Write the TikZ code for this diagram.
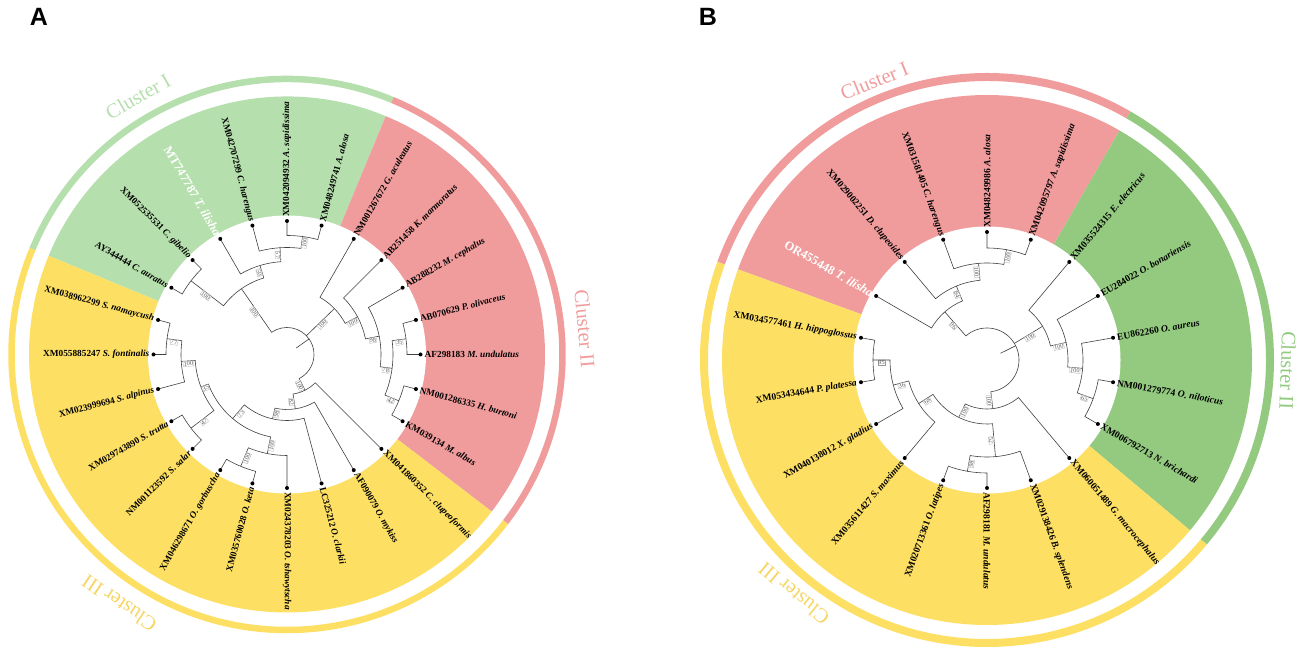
\documentclass[tikz,border=0pt]{standalone}
\usepackage{fontspec}
\setmainfont{Liberation Serif}
\newfontfamily\panelfont{Liberation Sans}
\usetikzlibrary{calc}

\definecolor{clgreen}{HTML}{B5DFAC}
\definecolor{clgreendark}{HTML}{93CA7F}
\definecolor{clred}{HTML}{F19C9C}
\definecolor{clyellow}{HTML}{FDDF63}
\definecolor{clgold}{HTML}{F6D562}

\tikzset{
  branch/.style={draw=black!75, line width=0.6pt},
  leaf/.style={font=\fontsize{9.3}{10}\selectfont\bfseries, inner sep=1pt},
  boot/.style={font=\fontsize{6.3}{7}\selectfont, text=black!65, draw=black!40,
    line width=0.2pt, fill=white, inner sep=0.5pt, anchor=north},
  ring/.style={line width=7pt},
  cluster/.style={font=\fontsize{20.5}{22}\selectfont},
}

% one clade: node radius, angle/radius of first child, angle/radius of second child
\newcommand{\clade}[5]{\draw[branch] (#2:#3) -- (#2:#1) arc[start angle=#2, end angle=#4, radius=#1] -- (#4:#5);}

% bootstrap value on a branch: name, angle, radius, value
\newcommand{\bootlab}[4]{%
  \pgfmathsetmacro\bcos{cos(#2)}%
  \ifdim\bcos pt>-0.01pt \pgfmathsetmacro\brot{#2}\else\pgfmathsetmacro\brot{#2-180}\fi
  \node[boot, rotate=\brot] (#1) at (#2:#3) {#4};}

\begin{document}
\begin{tikzpicture}[x=1pt, y=1pt]
    \useasboundingbox (0,0) rectangle (1299,653);

    % Panel letters
    \node[font=\panelfont\bfseries\fontsize{25}{25}\selectfont] (labA) at (39,636) {A};
    \node[font=\panelfont\bfseries\fontsize{25}{25}\selectfont] (labB) at (708,636) {B};

    % ---------------- Panel A ----------------
    \begin{scope}[shift={(287,298.5)}]
    \def\rl{133.5}
    % Draw the cluster wedges
    \fill[clgreen] (0,0) -- (157.5:258) arc[start angle=157.5, end angle=67.5, radius=258] -- cycle;
    \fill[clred] (0,0) -- (67.5:258) arc[start angle=67.5, end angle=-37.5, radius=258] -- cycle;
    \fill[clyellow] (0,0) -- (-37.5:258) arc[start angle=-37.5, end angle=-202.5, radius=258] -- cycle;
    \fill[white] (0,0) circle (139);

    % Outer ring and cluster names
    \draw[ring, line width=6.5pt, clgreen] (157.5:275.5) arc[start angle=157.5, end angle=67.5, radius=275.5];
    \draw[ring, line width=6.5pt, clred] (67.5:275.5) arc[start angle=67.5, end angle=-37.5, radius=275.5];
    \draw[ring, line width=6.5pt, clyellow] (-37.5:275.5) arc[start angle=-37.5, end angle=-202.5, radius=275.5];
    \node[cluster, text=clgreen, rotate=30] (cA1) at (120:298) {Cluster I};
    \node[cluster, text=clred, rotate=-85] (cA2) at (5:299) {Cluster II};
    \node[cluster, text=clgold, rotate=146] (cA3) at (-124:300) {Cluster III};

    % Draw the tree
    \clade{119}{90}{\rl}{75}{\rl}
    \clade{107}{105}{\rl}{82.5}{119}
    \clade{93}{120}{\rl}{93.75}{107}
    \clade{121}{150}{\rl}{135}{\rl}
    \clade{80}{142.5}{121}{106.875}{93}
    \clade{120}{15}{\rl}{0}{\rl}
    \clade{121}{-15}{\rl}{-30}{\rl}
    \clade{106}{7.5}{120}{-22.5}{121}
    \clade{94}{30}{\rl}{-7.5}{106}
    \clade{80}{45}{\rl}{11.25}{94}
    \clade{66}{60}{\rl}{28.125}{80}
    \clade{121}{165}{\rl}{180}{\rl}
    \clade{106}{172.5}{121}{195}{\rl}
    \clade{121}{210}{\rl}{225}{\rl}
    \clade{92}{183.75}{106}{217.5}{121}
    \clade{121}{240}{\rl}{255}{\rl}
    \clade{101}{247.5}{121}{270}{\rl}
    \clade{84}{200.625}{92}{258.75}{101}
    \clade{66}{229.6875}{84}{285}{\rl}
    \clade{55}{257.34375}{66}{300}{\rl}
    \clade{40}{278.671875}{55}{315}{\rl}
    % root
    \draw[branch] (124.6875:80) -- (124.6875:27) arc[start angle=124.6875, end angle=-63.164, radius=27] -- (-63.164:40);
    \draw[branch] (44.0625:27) -- (44.0625:66);
    \draw[branch] (35.195:27) -- (35.195:11);

    % Leaves
    \foreach \ang/\acc/\sname in {90/XM042094932/A. sapidissima, 75/XM048249741/A. alosa,
        60/NM001267672/G. aculeatus, 45/AB251458/K. marmoratus, 30/AB288232/M. cephalus,
        15/AB070629/P. olivaceus, 0/AF298183/M. undulatus, -15/NM001286335/H. burtoni,
        -30/KM039134/M. albus, -45/XM041860352/C. clupeoformis, -60/AF090079/O. mykiss,
        -75/LC325212/O. clarkii, -90/XM024378203/O. tshawytscha} {
        \fill (\ang:\rl) circle (2);
        \node[leaf, anchor=west, rotate=\ang] (A\acc) at (\ang:\rl+3) {\acc\ \textit{\sname}};
    }
    \foreach \ang/\acc/\sname in {105/XM042707299/C. harengus, 135/XM052535531/C. gibelio,
        150/AY344444/C. auratus, 165/XM038962299/S. namaycush, 180/XM055885247/S. fontinalis,
        195/XM023999694/S. alpinus, 210/XM029743890/S. trutta, 225/NM001123592/S. salar,
        240/XM046298671/O. gorbuscha, 255/XM035760028/O. keta} {
        \fill (\ang:\rl) circle (2);
        \node[leaf, anchor=east, rotate=\ang-180] (A\acc) at (\ang:\rl+3) {\acc\ \textit{\sname}};
    }
    \fill (120:\rl) circle (2);
    \node[leaf, text=white, font=\fontsize{12.5}{14}\selectfont\bfseries, anchor=east, rotate=-60]
        (Ailisha) at (120:\rl+3) {MT747787 \textit{T. ilisha}};

    % Bootstrap values
    \foreach \ang/\rad/\val [count=\i] in {124.6875/53.5/100, 142.5/100.5/100, 106.875/86.5/50,
        93.75/100/57, 82.5/113/100, 44.0625/46.5/100, 28.125/73/100, 11.25/87/98, -7.5/100/78,
        7.5/113/35, -22.5/113.5/42, -63.164/33.5/100, -81.33/47.5/82, -102.66/60.5/98,
        -130.31/75/75, -159.375/88/35, 183.75/99/100, 172.5/113.5/77, -142.5/106.5/47,
        -101.25/92.5/100, -112.5/111/100} {
        \bootlab{bA\i}{\ang}{\rad}{\val}
    }
    \end{scope}

    % ---------------- Panel B ----------------
    \begin{scope}[shift={(987,293)}]
    \def\rl{128}
    % Draw the cluster wedges
    \fill[clred] (0,0) -- (160:265) arc[start angle=160, end angle=60, radius=265] -- cycle;
    \fill[clgreendark] (0,0) -- (60:265) arc[start angle=60, end angle=-40, radius=265] -- cycle;
    \fill[clyellow] (0,0) -- (-40:265) arc[start angle=-40, end angle=-200, radius=265] -- cycle;
    \fill[white] (0,0) circle (133.5);

    % Outer ring and cluster names
    \draw[ring, line width=8pt, clred] (160:283) arc[start angle=160, end angle=60, radius=283];
    \draw[ring, line width=8pt, clgreendark] (60:283) arc[start angle=60, end angle=-40, radius=283];
    \draw[ring, line width=8pt, clyellow] (-40:283) arc[start angle=-40, end angle=-200, radius=283];
    \node[cluster, text=clred, rotate=22] (cB1) at (112:301) {Cluster I};
    \node[cluster, text=clgreendark, rotate=-92] (cB2) at (-2:301) {Cluster II};
    \node[cluster, text=clgold, rotate=140.4] (cB3) at (-129.6:303) {Cluster III};

    % Draw the tree
    \clade{112}{90}{\rl}{70}{\rl}
    \clade{97}{110}{\rl}{80}{112}
    \clade{80}{130}{\rl}{95}{97}
    \clade{64}{150}{\rl}{112.5}{80}
    \clade{113}{-10}{\rl}{-30}{\rl}
    \clade{96}{10}{\rl}{-20}{113}
    \clade{81}{30}{\rl}{-5}{96}
    \clade{65}{50}{\rl}{12.5}{81}
    \clade{114}{170}{\rl}{190}{\rl}
    \clade{97}{180}{114}{210}{\rl}
    \clade{81}{195}{97}{230}{\rl}
    \clade{113}{-110}{\rl}{-90}{\rl}
    \clade{97}{-100}{113}{-70}{\rl}
    \clade{64}{-147.5}{81}{-85}{97}
    \clade{49}{-116.25}{64}{-50}{\rl}
    % root
    \draw[branch] (131.25:64) -- (131.25:32) arc[start angle=131.25, end angle=-83.125, radius=32] -- (-83.125:49);
    \draw[branch] (31.25:32) -- (31.25:65);
    \draw[branch] (26.46:32) -- (26.46:15);

    % Leaves
    \foreach \ang/\acc/\sname in {90/XM048249986/A. alosa, 70/XM042095797/A. sapidissima,
        50/XM035524315/E. electricus, 30/EU284022/O. bonariensis, 10/EU862260/O. aureus,
        -10/NM001279774/O. niloticus, -30/XM006792713/N. brichardi,
        -50/XM060051489/G. macrocephalus, -70/XM029138426/B. splendens,
        -90/AF298181/M. undulatus} {
        \fill (\ang:\rl) circle (2);
        \node[leaf, font=\fontsize{9.6}{10}\selectfont\bfseries, anchor=west, rotate=\ang]
            (B\acc) at (\ang:\rl+3) {\acc\ \textit{\sname}};
    }
    \foreach \ang/\acc/\sname in {110/XM031581405/C. harengus, 130/XM029002251/D. clupeoides,
        170/XM034577461/H. hippoglossus, 190/XM053434644/P. platessa,
        210/XM040138012/X. gladius, 230/XM035611427/S. maximus, 250/XM020713361/O. latipes} {
        \fill (\ang:\rl) circle (2);
        \node[leaf, font=\fontsize{9.6}{10}\selectfont\bfseries, anchor=east, rotate=\ang-180]
            (B\acc) at (\ang:\rl+3) {\acc\ \textit{\sname}};
    }
    \fill (150:\rl) circle (2);
    \node[leaf, text=white, font=\fontsize{12.5}{14}\selectfont\bfseries, anchor=east, rotate=-30]
        (Bilisha) at (150:\rl+3) {OR455448 \textit{T. ilisha}};

    % Bootstrap values
    \foreach \ang/\rad/\val [count=\i] in {131.25/48/96, 112.5/72/84, 95/88.5/100, 80/104.5/100,
        31.25/48.5/100, 12.5/73/100, -5/88.5/100, -20/104.5/65, -83.125/40.5/100,
        -116.25/56.5/100, -147.5/72.5/68, 195/89/36, 180/105.5/95, -85/80.5/52, -100/105/98} {
        \bootlab{bB\i}{\ang}{\rad}{\val}
    }
    \end{scope}
\end{tikzpicture}
\end{document}
